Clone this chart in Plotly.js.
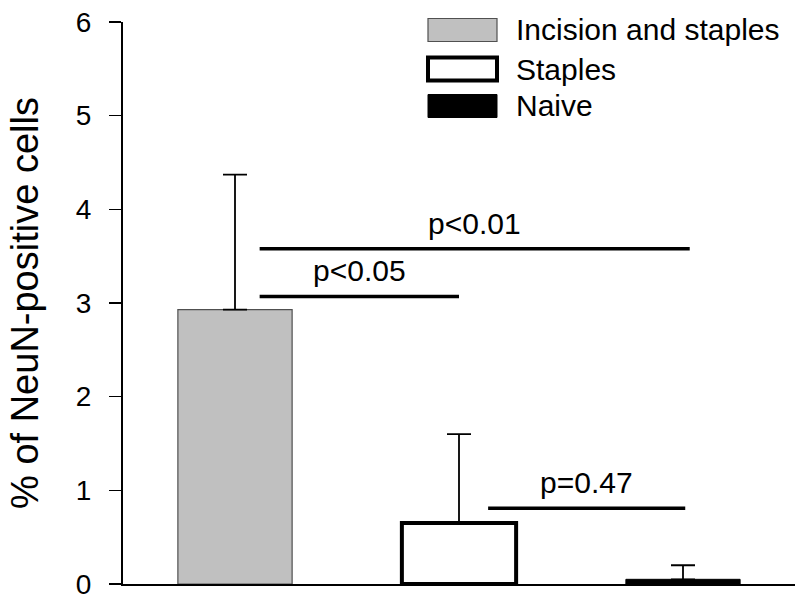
<!DOCTYPE html>
<html>
<head>
<meta charset="utf-8">
<script src="https://cdn.plot.ly/plotly-3.0.1.min.js"></script>
<style>html,body{margin:0;padding:0;background:#fff;}#chart{width:795px;height:600px;}</style>
</head>
<body>
<div id="chart"></div>
<script>
// ---- data ----
const groups = ["Incision and staples", "Staples", "Naive"];
const means = [2.93, 0.65, 0.05];
const errTops = [4.37, 1.60, 0.20];
const sigLabels = ["p<0.01", "p<0.05", "p=0.47"];
const sigFrom = [0.11, 0.11, 1.13];
const sigTo = [2.03, 1.0, 2.01];
const sigLevel = [3.58, 3.07, 0.81];
const yTicks = [0, 1, 2, 3, 4, 5, 6];

// ---- styles ----
const fills = ["#c0c0c0", "#ffffff", "#000000"];
const outlines = ["#505050", "#000000", "#000000"];
const outlineW = [1.2, 4, 1];
const FONT = "Liberation Sans, Arial, sans-serif";

const trace = {
  type: "bar",
  x: [0, 1, 2],
  y: means,
  width: 0.51,
  marker: { color: fills, line: { color: outlines, width: outlineW } },
  error_y: {
    type: "data", symmetric: false,
    array: errTops.map((t, i) => t - means[i]),
    arrayminus: means.map(() => 0),
    color: "#000", thickness: 1.8, width: 12
  },
  showlegend: false,
  hoverinfo: "skip"
};

const shapes = [];
const annotations = [];
sigLabels.forEach((lab, i) => {
  shapes.push({ type: "line", xref: "x", yref: "y", x0: sigFrom[i], x1: sigTo[i], y0: sigLevel[i], y1: sigLevel[i],
    line: { color: "#000", width: 3.5 } });
  annotations.push({ xref: "x", yref: "y", x: (sigFrom[i] + sigTo[i]) / 2, y: sigLevel[i], text: lab,
    showarrow: false, xanchor: "center", yanchor: "bottom", yshift: 7, font: { family: FONT, size: 30, color: "#000" } });
});

// custom legend (pixel layout converted to paper coords)
const L = 123, R = 795, T = 22, B = 584;
const px = v => (v - L) / (R - L);
const py = v => (B - v) / (B - T);
const legRows = [30, 69, 106];
groups.forEach((g, i) => {
  const c = legRows[i];
  shapes.push({ type: "rect", xref: "paper", yref: "paper", x0: px(428), x1: px(497), y0: py(c - 11.5), y1: py(c + 11.5),
    fillcolor: fills[i], line: { color: outlines[i], width: outlineW[i] } });
  annotations.push({ xref: "paper", yref: "paper", x: px(514), y: py(c), text: g, showarrow: false,
    xanchor: "left", yanchor: "middle", font: { family: FONT, size: 30, color: "#000" } });
});

const layout = {
  width: 795, height: 600,
  margin: { l: L, r: 795 - R, t: T, b: 600 - B, pad: 0 },
  paper_bgcolor: "#fff", plot_bgcolor: "#fff",
  font: { family: FONT, size: 28, color: "#000" },
  xaxis: { range: [-0.5, 2.5], showticklabels: false, ticks: "", showgrid: false, zeroline: false,
    showline: true, linecolor: "#000", linewidth: 2, fixedrange: true },
  yaxis: { range: [0, 6], tickvals: yTicks, ticks: "outside", ticklen: 12, tickwidth: 1.5, tickcolor: "#000",
    ticklabelstandoff: 12,
    showgrid: false, zeroline: false, showline: true, linecolor: "#000", linewidth: 2,
    tickfont: { family: FONT, size: 28, color: "#000" },
    title: { text: "% of NeuN-positive cells", font: { family: FONT, size: 38, color: "#000" }, standoff: 26 } },
  shapes: shapes,
  annotations: annotations
};

Plotly.newPlot("chart", [trace], layout, { displayModeBar: false, staticPlot: true });
</script>
</body>
</html>
